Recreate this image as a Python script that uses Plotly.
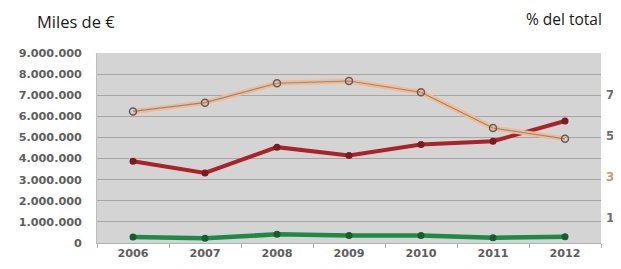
import plotly.graph_objects as go

years = ["2006", "2007", "2008", "2009", "2010", "2011", "2012"]
pct_total = [6.19, 6.62, 7.57, 7.68, 7.13, 5.38, 4.85]          # % del total (right axis)
miles_red = [3870000, 3320000, 4540000, 4140000, 4670000, 4820000, 5780000]
miles_green = [290000, 220000, 410000, 350000, 350000, 250000, 300000]
left_ticks = [0, 1000000, 2000000, 3000000, 4000000, 5000000, 6000000, 7000000, 8000000, 9000000]
right_ticks = [1, 3, 5, 7]
right_labels = ["1", '<span style="color:#c99a7c">3</span>', "5", "7"]

fig = go.Figure()

# orange % line (with thin gray overlay and open circle markers)
fig.add_trace(go.Scatter(x=years, y=pct_total, yaxis="y2", mode="lines",
                         line=dict(color="#f5b98e", width=5), hoverinfo="skip", showlegend=False))
fig.add_trace(go.Scatter(x=years, y=pct_total, yaxis="y2", mode="lines+markers",
                         line=dict(color="#8c8c8c", width=1.2),
                         marker=dict(symbol="circle-open", size=7, color="#6b5a50", line=dict(width=1.5)),
                         showlegend=False))
fig.add_trace(go.Scatter(x=years, y=miles_red, mode="lines+markers",
                         line=dict(color="#a8232a", width=4),
                         marker=dict(symbol="circle", size=7, color="#7a1a22"),
                         showlegend=False))
fig.add_trace(go.Scatter(x=years, y=miles_green, mode="lines+markers",
                         line=dict(color="#1f8a45", width=4.5),
                         marker=dict(symbol="circle", size=7, color="#155e30"),
                         showlegend=False))

tickfont = dict(size=11.2, color="#5e5e5e", family="DejaVu Sans", weight="bold")

# page body has an 8px margin, so the figure is 8px smaller in each direction
fig.update_layout(
    width=613, height=261,
    margin=dict(l=89, r=20, t=45, b=26, autoexpand=False),
    paper_bgcolor="white", plot_bgcolor="#d4d4d4",
    separators=",.",
    font=dict(family="DejaVu Sans", size=12, color="#5e5e5e"),
    xaxis=dict(type="category", range=[-0.5, 6.5], showgrid=False,
               showline=True, linecolor="#b0b0b0", linewidth=1,
               ticks="outside", ticklen=4, tickcolor="#b0b0b0",
               tickson="boundaries", tickfont=tickfont),
    yaxis=dict(range=[0, 9000000], tickvals=left_ticks, tickformat=",d",
               showgrid=True, gridcolor="#a6a6a6", gridwidth=1,
               showline=True, linecolor="#bdbdbd", zeroline=False,
               ticklabelstandoff=12, automargin=False, tickfont=tickfont),
    yaxis2=dict(range=[-0.25, 9.05], overlaying="y", side="right",
                tickvals=right_ticks, ticktext=right_labels,
                showgrid=False, showline=False, zeroline=False,
                ticklabelstandoff=4, automargin=False, ticklabeloverflow="allow",
                tickfont=dict(size=12, color="#6e6e6e", family="DejaVu Sans", weight="bold")),
    annotations=[
        dict(text="Miles de €", xref="paper", yref="paper", x=-0.1508, y=1.0,
             xanchor="left", yanchor="bottom", yshift=18, xshift=14, showarrow=False,
             font=dict(size=16.5, color="#1a1a1a", family="Open Sans")),
        dict(text="% del total", xref="paper", yref="paper", x=1.0, y=1.0,
             xanchor="right", yanchor="bottom", yshift=21, xshift=3, showarrow=False,
             font=dict(size=15.5, color="#1a1a1a", family="Open Sans")),
    ],
)

fig.write_html("out.html")
